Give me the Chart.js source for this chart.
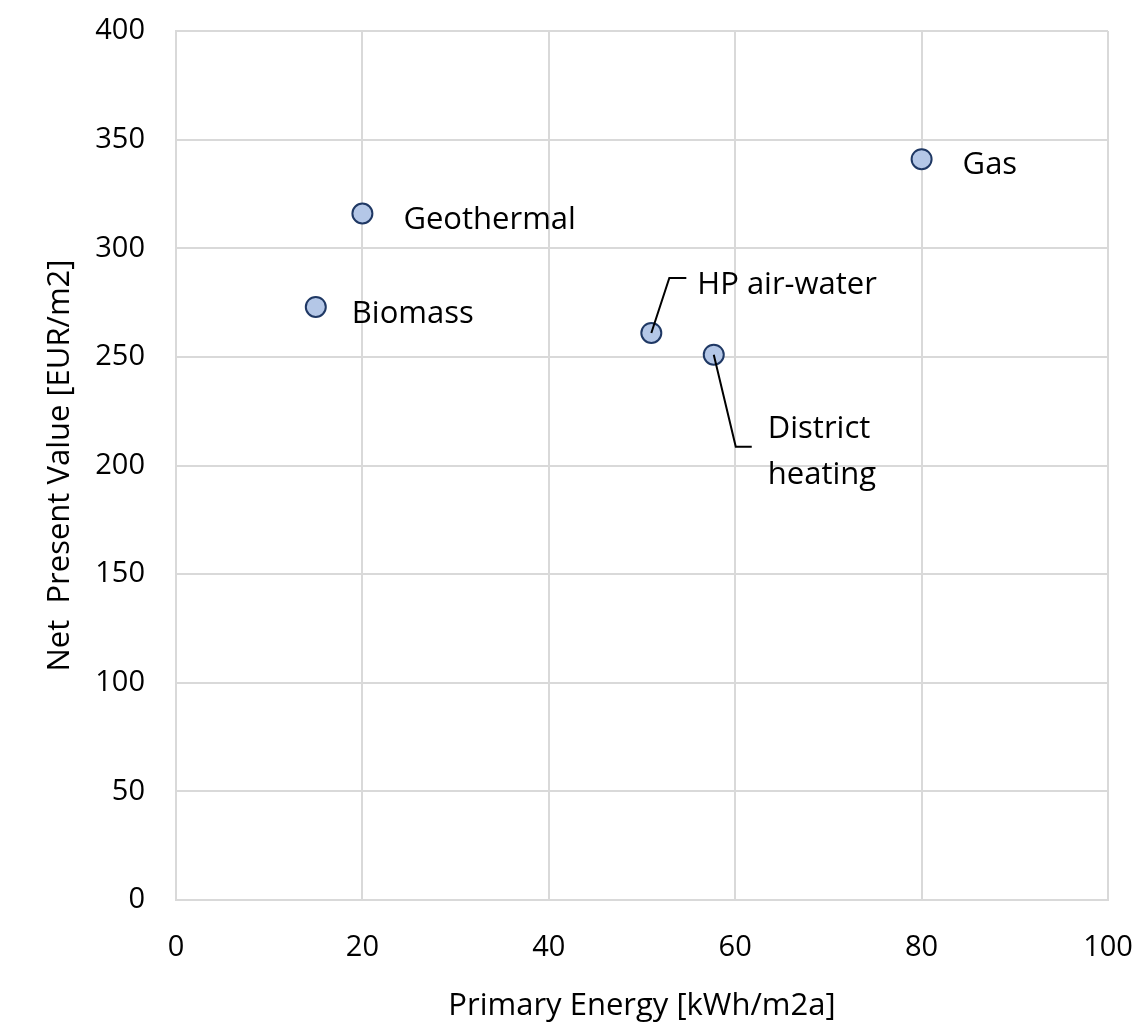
<!DOCTYPE html>
<html>
<head>
<meta charset="utf-8">
<script src="https://cdn.jsdelivr.net/npm/chart.js@4"></script>
<style>
  html, body { margin: 0; padding: 0; background: #fff; }
  #wrap { width: 1143px; height: 1025px; position: relative; }
</style>
</head>
<body>
<div id="wrap"><canvas id="chart"></canvas></div>
<script>
// heating systems
const systems = ['Biomass', 'Geothermal', 'HP air-water', 'District heating', 'Gas'];
const primaryEnergy = [15, 20, 51, 57.7, 80];
const netPresentValue = [273, 316, 261, 251, 341];
const xTicks = [0, 20, 40, 60, 80, 100];
const yTicks = [0, 50, 100, 150, 200, 250, 300, 350, 400];

// label placement in pixels relative to the point (style only)
const labelStyle = [
  { lines: ['Biomass'], dx: 36, dy: 7 },
  { lines: ['Geothermal'], dx: 41, dy: 7 },
  { lines: ['HP air-water'], dx: 46, dy: -48, leader: [[18, -55], [35, -55]] },
  { lines: ['District', 'heating'], dx: 54, dy: 74, leader: [[22, 92], [38, 92]] },
  { lines: ['Gas'], dx: 41, dy: 6 }
];

const fontFam = '"Open Sans", "Noto Sans", sans-serif';

const pointLabels = {
  id: 'pointLabels',
  afterDatasetsDraw(chart) {
    const ctx = chart.ctx;
    const meta = chart.getDatasetMeta(0);
    ctx.save();
    meta.data.forEach((pt, i) => {
      const st = labelStyle[i];
      if (st.leader) {
        ctx.beginPath();
        ctx.strokeStyle = '#000';
        ctx.lineWidth = 2;
        ctx.moveTo(pt.x, pt.y);
        st.leader.forEach(p => ctx.lineTo(pt.x + p[0], pt.y + p[1]));
        ctx.stroke();
      }
      ctx.fillStyle = '#000';
      ctx.font = '31px ' + fontFam;
      ctx.textAlign = 'left';
      ctx.textBaseline = 'middle';
      st.lines.forEach((ln, k) => {
        ctx.fillText(ln, pt.x + st.dx, pt.y + st.dy + k * 46);
      });
    });
    ctx.restore();
  }
};

new Chart(document.getElementById('chart').getContext('2d'), {
  type: 'scatter',
  data: {
    datasets: [{
      label: 'Systems',
      data: systems.map((s, i) => ({ x: primaryEnergy[i], y: netPresentValue[i] })),
      backgroundColor: '#b4c7e7',
      borderColor: '#1f3864',
      borderWidth: 2,
      pointRadius: 10,
      pointHoverRadius: 10
    }]
  },
  options: {
    responsive: true,
    maintainAspectRatio: false,
    animation: false,
    layout: { padding: { top: 31, right: 35, left: 0, bottom: 0 } },
    plugins: {
      legend: { display: false },
      tooltip: { enabled: false }
    },
    scales: {
      x: {
        type: 'linear',
        min: 0, max: 100,
        afterBuildTicks: axis => { axis.ticks = xTicks.map(v => ({ value: v })); },
        afterFit: axis => {
          axis.height = 125;
          axis.paddingLeft = 0;
          axis.paddingRight = 0;
        },
        grid: { color: '#d9d9d9', lineWidth: 2, drawTicks: false },
        border: { color: '#d9d9d9', width: 2 },
        ticks: { padding: 30, color: '#000', font: { family: fontFam, size: 29 } },
        title: {
          display: true,
          text: 'Primary Energy [kWh/m2a]',
          color: '#000',
          font: { family: fontFam, size: 31 },
          padding: { top: 8, bottom: 0 }
        }
      },
      y: {
        type: 'linear',
        min: 0, max: 400,
        afterBuildTicks: axis => { axis.ticks = yTicks.map(v => ({ value: v })); },
        afterFit: axis => {
          axis.width = 176;
          axis.paddingTop = 0;
          axis.paddingBottom = 0;
        },
        grid: { color: '#d9d9d9', lineWidth: 2, drawTicks: false },
        border: { color: '#d9d9d9', width: 2 },
        ticks: { padding: 31, color: '#000', font: { family: fontFam, size: 29 } },
        title: {
          display: true,
          text: 'Net  Present Value [EUR/m2]',
          color: '#000',
          font: { family: fontFam, size: 31 },
          padding: { top: 42, bottom: 0 }
        }
      }
    }
  },
  plugins: [pointLabels]
});
</script>
</body>
</html>
